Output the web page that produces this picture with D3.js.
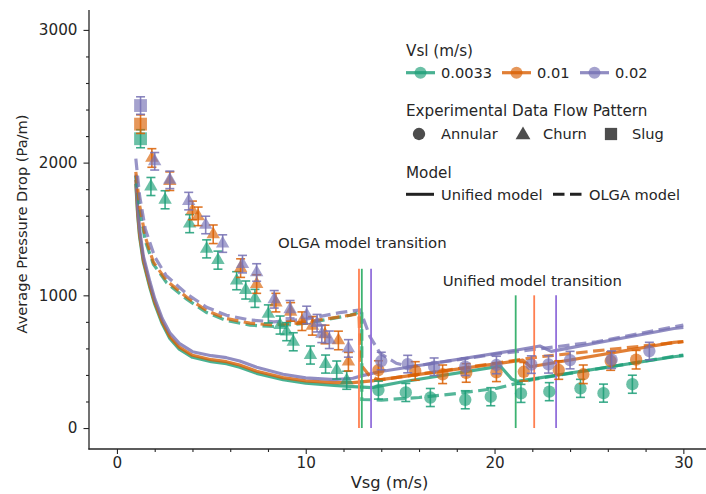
<!DOCTYPE html>
<html>
<head>
<meta charset="utf-8">
<script src="https://cdn.jsdelivr.net/npm/d3@7"></script>
<style>
  body { margin: 0; background: #fff; }
  svg { display: block; }
  text { font-family: "DejaVu Sans", sans-serif; fill: #262626; }
</style>
</head>
<body>
<svg id="chart" width="706" height="494"></svg>
<script>
// ---------- data ----------
const vslLabels = ["0.0033", "0.01", "0.02"];
const patternNames = ["Annular", "Churn", "Slug"];

// Experimental points: [Vsg (m/s), pressure drop (Pa/m), flow pattern]
const exp0033 = [
  [1.25, 2180, "Slug"],
  [1.8, 1820, "Churn"], [2.55, 1720, "Churn"], [3.85, 1540, "Churn"], [4.75, 1350, "Churn"],
  [5.35, 1265, "Churn"], [6.34, 1110, "Churn"], [6.82, 1040, "Churn"], [7.31, 977, "Churn"],
  [8.02, 860, "Churn"], [8.64, 776, "Churn"], [8.99, 726, "Churn"], [9.34, 650, "Churn"],
  [10.25, 550, "Churn"], [11.05, 482, "Churn"], [11.64, 437, "Churn"], [12.17, 360, "Churn"],
  [13.85, 286, "Annular"], [15.3, 268, "Annular"], [16.6, 230, "Annular"], [18.45, 213, "Annular"],
  [19.8, 236, "Annular"], [21.4, 261, "Annular"], [22.9, 274, "Annular"], [24.55, 299, "Annular"],
  [25.77, 263, "Annular"], [27.3, 330, "Annular"]
];
const exp001 = [
  [1.25, 2290, "Slug"],
  [1.85, 2035, "Churn"], [2.8, 1860, "Churn"], [4.0, 1640, "Churn"], [4.3, 1595, "Churn"],
  [5.1, 1460, "Churn"], [6.55, 1205, "Churn"], [7.4, 1085, "Churn"], [8.42, 945, "Churn"],
  [9.2, 875, "Churn"], [9.8, 805, "Churn"], [10.35, 770, "Churn"], [11.02, 705, "Churn"],
  [11.73, 660, "Churn"], [12.26, 500, "Churn"],
  [13.85, 437, "Annular"], [15.8, 430, "Annular"], [17.25, 405, "Annular"], [18.5, 415, "Annular"],
  [20.1, 420, "Annular"], [21.55, 424, "Annular"], [23.4, 437, "Annular"], [24.7, 405, "Annular"],
  [26.15, 505, "Annular"], [27.5, 515, "Annular"]
];
const exp002 = [
  [1.25, 2430, "Slug"],
  [2.0, 2010, "Churn"], [2.8, 1870, "Churn"], [3.8, 1710, "Churn"], [4.7, 1530, "Churn"],
  [5.6, 1390, "Churn"], [6.65, 1235, "Churn"], [7.4, 1172, "Churn"], [8.33, 970, "Churn"],
  [9.17, 895, "Churn"], [10.05, 852, "Churn"], [10.6, 790, "Churn"], [10.85, 710, "Churn"],
  [11.25, 665, "Churn"], [12.26, 600, "Churn"],
  [14.0, 505, "Annular"], [15.4, 482, "Annular"], [16.8, 462, "Annular"], [18.45, 462, "Annular"],
  [20.1, 475, "Annular"], [21.95, 478, "Annular"], [22.86, 480, "Annular"], [24.0, 512, "Annular"],
  [26.2, 515, "Annular"], [28.2, 580, "Annular"]
];
// measurement uncertainty (Pa/m) for each Vsl
const expError = [68, 70, 66];

// Unified model predictions: [Vsg, dP]
const unified0033 = [
  [1.0, 1840], [1.1, 1600], [1.2, 1440], [1.4, 1250], [1.75, 1055], [2.0, 935], [2.4, 785],
  [2.8, 675], [3.3, 595], [4.0, 533], [5.0, 500], [5.8, 485], [6.5, 458], [7.4, 412],
  [8.8, 365], [10.0, 338], [11.5, 322], [12.5, 312], [13.5, 305], [15.0, 345], [20.3, 467],
  [20.9, 370], [21.2, 352], [29.5, 537], [30.0, 545]
];
const unified001 = [
  [1.0, 1870], [1.1, 1620], [1.2, 1460], [1.4, 1266], [1.75, 1070], [2.0, 950], [2.4, 800],
  [2.8, 690], [3.3, 610], [4.0, 548], [5.0, 515], [5.8, 500], [6.5, 475], [7.4, 428],
  [8.8, 380], [10.0, 355], [11.5, 342], [12.5, 342], [13.5, 355], [21.5, 512], [21.9, 462],
  [29.5, 645], [30.0, 652]
];
const unified002 = [
  [1.0, 1910], [1.1, 1660], [1.2, 1500], [1.4, 1295], [1.75, 1100], [2.0, 975], [2.4, 825],
  [2.8, 718], [3.3, 638], [4.0, 575], [5.0, 545], [5.8, 530], [6.5, 505], [7.4, 458],
  [8.8, 405], [10.0, 378], [11.5, 365], [12.5, 375], [13.0, 395], [13.9, 424], [21.2, 588],
  [22.4, 618], [23.0, 578], [29.5, 750], [30.0, 758]
];

// OLGA model predictions: [Vsg, dP]
const olga0033 = [
  [1.0, 1900], [1.2, 1650], [1.5, 1410], [1.93, 1235], [2.63, 1095], [3.7, 970], [4.75, 870],
  [5.8, 810], [7.05, 775], [8.3, 765], [10.05, 790], [12.35, 850], [12.97, 880], [12.97, 215],
  [14.0, 211], [16.0, 230], [18.0, 260], [20.1, 299], [22.0, 365], [29.5, 540], [30.0, 550]
];
const olga001 = [
  [1.0, 1930], [1.2, 1680], [1.5, 1440], [1.93, 1250], [2.63, 1110], [3.7, 985], [4.75, 885],
  [5.8, 825], [7.05, 790], [8.3, 776], [10.05, 800], [12.35, 850], [12.82, 862], [12.9, 480],
  [13.4, 390], [13.9, 362], [22.4, 537], [30.0, 650]
];
const olga002 = [
  [1.0, 2030], [1.2, 1750], [1.5, 1500], [2.0, 1290], [2.6, 1150], [3.7, 1010], [4.75, 910],
  [5.8, 850], [7.0, 815], [8.3, 800], [10.0, 820], [11.8, 870], [12.88, 890], [13.4, 690],
  [13.94, 563], [14.8, 488], [15.5, 462], [20.0, 555], [25.4, 650], [30.0, 776]
];

// Flow-pattern transition velocities predicted by each model
const olgaTransition = [12.97, 12.82, 13.46];
const unifiedTransition = [21.12, 22.1, 23.26];

const xTicks = [0, 10, 20, 30];
const yTicks = [0, 1000, 2000, 3000];

// ---------- styling ----------
const palette = ["#1b9e77", "#d95f02", "#7570b3"];
const transitionColors = ["#3cb371", "#ff7f50", "#9370db"];

const svg = d3.select("#chart");
const x = d3.scaleLinear().domain([-1.48, 31.2]).range([89, 706]);
const y = d3.scaleLinear().domain([-158, 3150]).range([449, 10]);

const symbolFor = { Annular: d3.symbolCircle, Churn: d3.symbolTriangle, Slug: d3.symbolSquare };
const symbolSize = { Annular: 120, Churn: 78, Slug: 165 };

// ---------- axes ----------
const minorX = d3.range(-0, 31, 2).filter(v => !xTicks.includes(v));
const minorY = d3.range(0, 3001, 200).filter(v => !yTicks.includes(v));

const gx = svg.append("g").attr("transform", "translate(0,449)");
gx.call(d3.axisBottom(x).tickValues(minorX).tickSize(3).tickFormat(""));
gx.call(g => g.select(".domain").remove());
const gxMajor = svg.append("g").attr("transform", "translate(0,449)")
  .call(d3.axisBottom(x).tickValues(xTicks).tickSize(5).tickPadding(3.5).tickFormat(d3.format("d")));
gxMajor.select(".domain").remove();
gxMajor.selectAll("text").style("font-size", "15.2px").attr("fill", "#262626");

const gy = svg.append("g").attr("transform", "translate(89,0)");
gy.call(d3.axisLeft(y).tickValues(minorY).tickSize(3).tickFormat(""));
gy.call(g => g.select(".domain").remove());
const gyMajor = svg.append("g").attr("transform", "translate(89,0)")
  .call(d3.axisLeft(y).tickValues(yTicks).tickSize(5.5).tickPadding(6).tickFormat(d3.format("d")));
gyMajor.select(".domain").remove();
gyMajor.selectAll("text").style("font-size", "15.2px").attr("fill", "#262626");

svg.selectAll(".tick line").attr("stroke", "#262626").attr("stroke-width", 1.1);

// spines (left and bottom only)
svg.append("line").attr("x1", 89).attr("x2", 89).attr("y1", 10).attr("y2", 449.6)
  .attr("stroke", "#262626").attr("stroke-width", 1.3);
svg.append("line").attr("x1", 88.4).attr("x2", 706).attr("y1", 449).attr("y2", 449)
  .attr("stroke", "#262626").attr("stroke-width", 1.3);

svg.append("text").attr("x", 389.5).attr("y", 487.5).attr("text-anchor", "middle")
  .style("font-size", "16.3px").text("Vsg (m/s)");
svg.append("text").attr("transform", "translate(26.5,224) rotate(-90)")
  .attr("text-anchor", "middle").style("font-size", "14.6px").text("Average Pressure Drop (Pa/m)");

// ---------- model curves ----------
const line = d3.line().x(d => x(d[0])).y(d => y(d[1]));
const unifiedSets = [unified0033, unified001, unified002];
const olgaSets = [olga0033, olga001, olga002];

unifiedSets.forEach((data, i) => {
  svg.append("path").datum(data).attr("d", line)
    .attr("fill", "none").attr("stroke", palette[i]).attr("stroke-width", 3.2)
    .attr("stroke-opacity", 0.8).attr("stroke-linejoin", "round");
});
olgaSets.forEach((data, i) => {
  svg.append("path").datum(data).attr("d", line)
    .attr("fill", "none").attr("stroke", palette[i]).attr("stroke-width", 3.2)
    .attr("stroke-opacity", 0.75).attr("stroke-dasharray", "11.5,5.5");
});

// ---------- transition markers ----------
olgaTransition.forEach((v, i) => {
  svg.append("line").attr("x1", x(v)).attr("x2", x(v)).attr("y1", y(0)).attr("y2", y(1200))
    .attr("stroke", transitionColors[i]).attr("stroke-width", 1.8);
});
unifiedTransition.forEach((v, i) => {
  svg.append("line").attr("x1", x(v)).attr("x2", x(v)).attr("y1", y(0)).attr("y2", y(1000))
    .attr("stroke", transitionColors[i]).attr("stroke-width", 1.8);
});
svg.append("text").attr("x", x(13.0)).attr("y", y(1400) + 5.3).attr("text-anchor", "middle")
  .style("font-size", "14.9px").text("OLGA model transition");
svg.append("text").attr("x", x(22.0)).attr("y", y(1110) + 5.3).attr("text-anchor", "middle")
  .style("font-size", "14.9px").text("Unified model transition");

// ---------- experimental data with error bars ----------
const expSets = [exp0033, exp001, exp002];
expSets.forEach((data, i) => {
  const g = svg.append("g");
  const err = expError[i];
  const eb = g.selectAll(".eb").data(data).enter().append("g")
    .attr("stroke", palette[i]).attr("stroke-width", 1.6).attr("stroke-opacity", 0.85);
  eb.append("line").attr("x1", d => x(d[0])).attr("x2", d => x(d[0]))
    .attr("y1", d => y(d[1] - err)).attr("y2", d => y(d[1] + err));
  eb.append("line").attr("x1", d => x(d[0]) - 4.5).attr("x2", d => x(d[0]) + 4.5)
    .attr("y1", d => y(d[1] - err)).attr("y2", d => y(d[1] - err));
  eb.append("line").attr("x1", d => x(d[0]) - 4.5).attr("x2", d => x(d[0]) + 4.5)
    .attr("y1", d => y(d[1] + err)).attr("y2", d => y(d[1] + err));
  g.selectAll(".pt").data(data).enter().append("path")
    .attr("transform", d => `translate(${x(d[0])},${y(d[1])})`)
    .attr("d", d => d3.symbol(symbolFor[d[2]], symbolSize[d[2]])())
    .attr("fill", palette[i]).attr("fill-opacity", 0.65);
});

// ---------- legend ----------
const lg = svg.append("g");
const titleSize = "15.2px", itemSize = "14.6px";
lg.append("text").attr("x", 406).attr("y", 55.5).style("font-size", titleSize).text("Vsl (m/s)");
const vslHandleX = [406, 502, 580];
const vslTextX = [441, 537, 615];
vslLabels.forEach((lab, i) => {
  lg.append("line").attr("x1", vslHandleX[i]).attr("x2", vslHandleX[i] + 29)
    .attr("y1", 72.7).attr("y2", 72.7).attr("stroke", palette[i]).attr("stroke-width", 3.2)
    .attr("stroke-opacity", 0.8);
  lg.append("circle").attr("cx", vslHandleX[i] + 14.5).attr("cy", 72.7).attr("r", 6)
    .attr("fill", palette[i]).attr("fill-opacity", 0.65);
  lg.append("text").attr("x", vslTextX[i]).attr("y", 78).style("font-size", itemSize).text(lab);
});

lg.append("text").attr("x", 406).attr("y", 116).style("font-size", titleSize)
  .text("Experimental Data Flow Pattern");
const patHandleX = [419, 523, 611];
const patTextX = [441, 543, 632];
patternNames.forEach((p, i) => {
  lg.append("path").attr("transform", `translate(${patHandleX[i]},${p === "Churn" ? 135 : 134})`)
    .attr("d", d3.symbol(symbolFor[p], p === "Churn" ? 95 : (p === "Slug" ? 150 : 120))())
    .attr("fill", "#3a3a3a").attr("fill-opacity", 0.9);
  lg.append("text").attr("x", patTextX[i]).attr("y", 139.3).style("font-size", itemSize).text(p);
});

lg.append("text").attr("x", 406).attr("y", 178.3).style("font-size", titleSize).text("Model");
lg.append("line").attr("x1", 406).attr("x2", 434).attr("y1", 194.3).attr("y2", 194.3)
  .attr("stroke", "#222").attr("stroke-width", 3);
lg.append("text").attr("x", 441).attr("y", 199.5).style("font-size", itemSize).text("Unified model");
lg.append("line").attr("x1", 553).attr("x2", 583).attr("y1", 194.3).attr("y2", 194.3)
  .attr("stroke", "#222").attr("stroke-width", 3).attr("stroke-dasharray", "11.5,5.5");
lg.append("text").attr("x", 589).attr("y", 199.5).style("font-size", itemSize).text("OLGA model");
</script>
</body>
</html>
